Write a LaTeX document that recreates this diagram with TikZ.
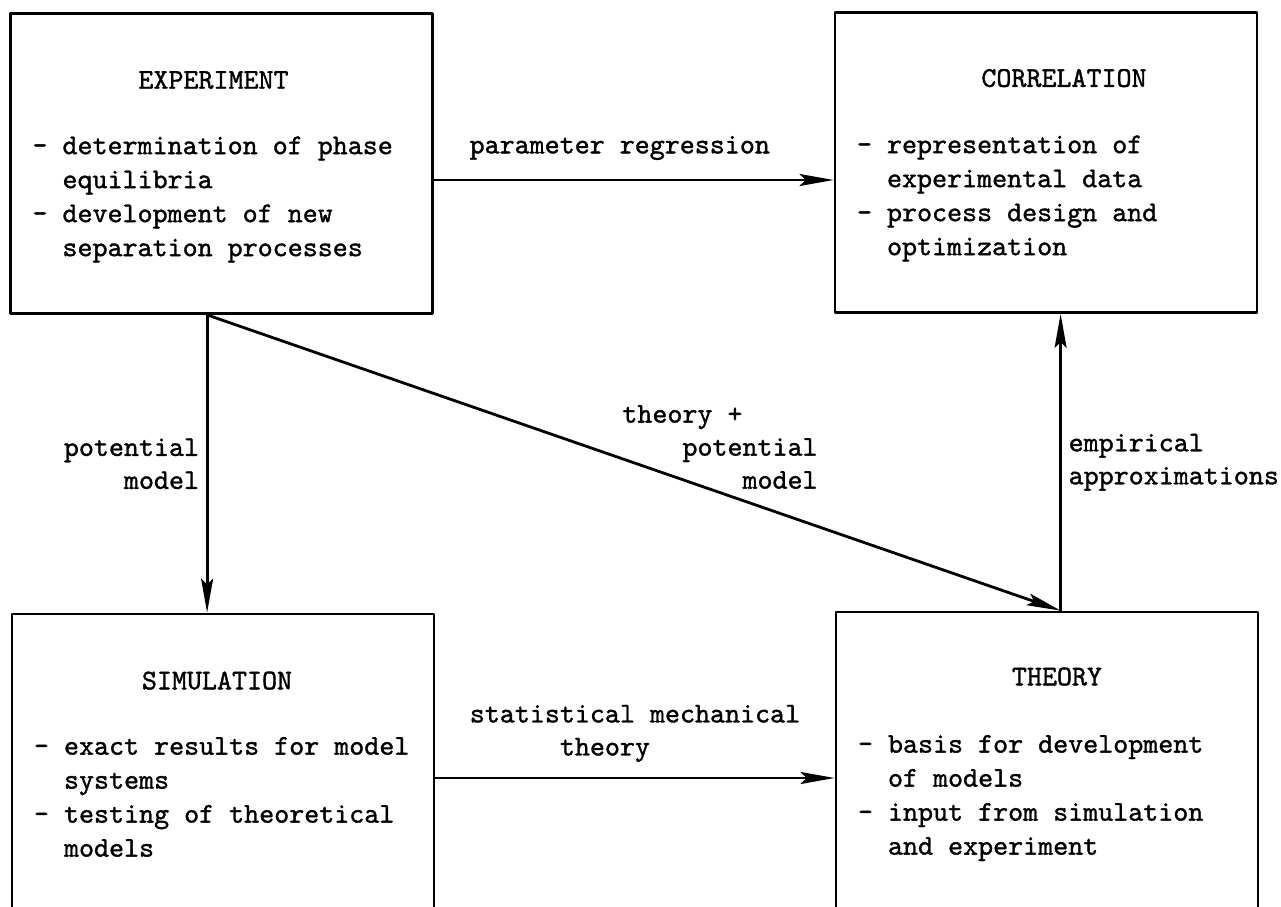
\documentclass[tikz,border=0pt]{standalone}
\usepackage{fontspec}
\usepackage{tikz}
\usetikzlibrary{arrows.meta,positioning}
\newfontfamily\typer[FakeBold=1.2]{lmmono10-regular.otf}
\newcommand{\tabin}[1]{\hspace*{#1em}}

\begin{document}
\begin{tikzpicture}[line cap=round,line join=round,x=0.5pt,y=-0.5pt,
    >={Stealth[length=17pt,width=6pt,inset=3pt]},
    box/.style={draw,line width=1.4pt,minimum width=211pt,minimum height=150pt,inner sep=0pt},
    txt/.style={font=\typer\fontsize{14.3pt}{17pt}\selectfont,inner sep=0pt},
    items/.style={txt,align=left,anchor=north west},
    lbl/.style={font=\typer\fontsize{14.3pt}{16.5pt}\selectfont},
    arr/.style={->,line width=1.4pt}]
  \useasboundingbox (0,0) rectangle (1281,906);
  \clip (0,0) rectangle (1281,906);
  % the four boxes
  \node[box] (exp) at (221.5,163.5) {};
  \node[box] (cor) at (1046,162.5) {};
  \node[box] (sim) at (223,764) {};
  \node[box] (thy) at (1047,762) {};
  \node[txt] (exphead) at ([xshift=-4pt,yshift=-34pt]exp.north) {EXPERIMENT};
  \node[txt] (corhead) at ([xshift=9pt,yshift=-33.5pt]cor.north) {CORRELATION};
  \node[txt] (simhead) at ([xshift=-3pt,yshift=-34pt]sim.north) {SIMULATION};
  \node[txt] (thyhead) at ([xshift=5pt,yshift=-33pt]thy.north) {THEORY};
  \node[items] (expitems) at ([xshift=11.5pt,yshift=-62pt]exp.north west)
    {- determination of phase\\\tabin{1.05}equilibria\\- development of new\\\tabin{1.05}separation processes};
  \node[items] (coritems) at ([xshift=11.5pt,yshift=-62pt]cor.north west)
    {- representation of\\\tabin{1.05}experimental data\\- process design and\\\tabin{1.05}optimization};
  \node[items] (simitems) at ([xshift=11.5pt,yshift=-62pt]sim.north west)
    {- exact results for model\\\tabin{1.05}systems\\- testing of theoretical\\\tabin{1.05}models};
  \node[items] (thyitems) at ([xshift=11.5pt,yshift=-62pt]thy.north west)
    {- basis for development\\\tabin{1.05}of models\\- input from simulation\\\tabin{1.05}and experiment};
  % connectors
  \coordinate (split) at ([xshift=99pt]exp.south west);
  \coordinate (join) at ([xshift=113pt]thy.north west);
  \coordinate (prs) at ([yshift=-8.25pt]exp.east);
  \coordinate (sms) at ([yshift=-7pt]sim.east);
  \draw[arr] (prs) -- node[lbl,above=6pt,pos=0.465] (prlbl) {parameter regression} (prs -| cor.west);
  \draw[arr] (split) -- node[lbl,left,align=right] (pmlbl) {potential\\model} (split |- sim.north);
  \draw[arr] (split) -- (join);
  \draw[arr] (join) -- node[lbl,right,align=left] (ealbl) {empirical\\approximations} (join |- cor.south);
  \draw[arr] (sms) -- node[lbl,above=4pt,pos=0.5,align=left] (smlbl)
    {statistical mechanical\\\tabin{3.15}theory} (sms -| thy.west);
  \node[lbl,anchor=west,align=left,inner sep=0pt] (tplbl) at (622,447)
    {theory +\\\tabin{2.1}potential\\\tabin{4.2}model};
\end{tikzpicture}
\end{document}
